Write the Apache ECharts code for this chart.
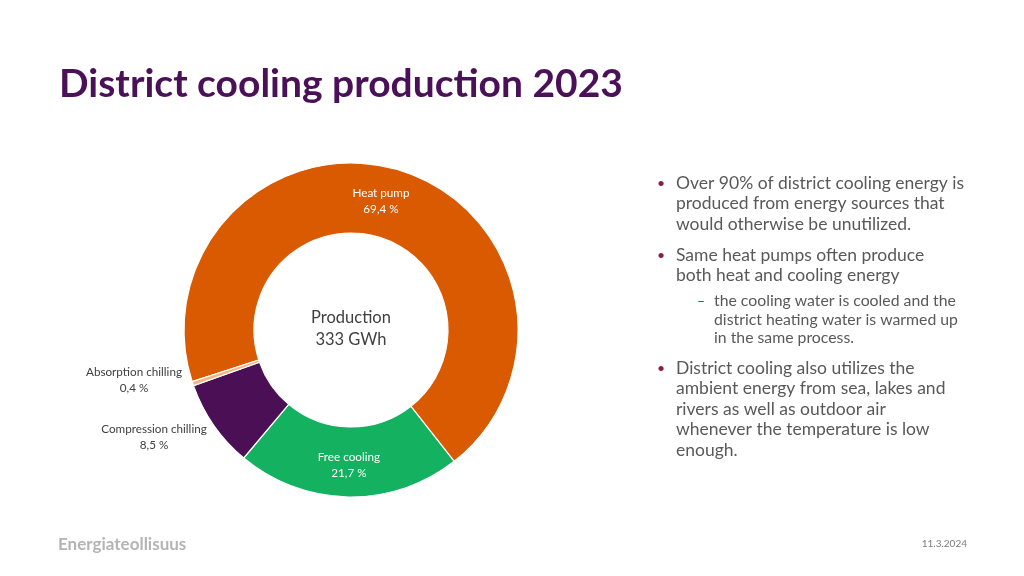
<!DOCTYPE html>
<html>
<head>
<meta charset="utf-8">
<script src="https://cdn.jsdelivr.net/npm/echarts@6/dist/echarts.min.js"></script>
<style>
  html, body { margin: 0; padding: 0; background: #fff; }
  #chart { width: 1024px; height: 576px; }
</style>
</head>
<body>
<div id="chart"></div>
<script>
// data
var categories = ["Heat pump", "Free cooling", "Compression chilling", "Absorption chilling"];
var shares = [69.4, 21.7, 8.5, 0.4];
var colors = ["#d95a00", "#13b160", "#4a0f55", "#f6b37c"];
var centerLines = ["Production", "333 GWh"];

var bullets = [
  { lines: ["Over 90% of district cooling energy is", "produced from energy sources that", "would otherwise be unutilized."], y: 183 },
  { lines: ["Same heat pumps often produce", "both heat and cooling energy"], y: 255 },
  { lines: ["District cooling also utilizes the", "ambient energy from sea, lakes and", "rivers as well as outdoor air", "whenever the temperature is low", "enough."], y: 368 }
];
var subBullet = { lines: ["the cooling water is cooled and the", "district heating water is warmed up", "in the same process."], y: 301 };

var FONT = "Lato, 'Noto Sans', sans-serif";

var chart = echarts.init(document.getElementById("chart"));

function fmtPct(v) {
  return v.toFixed(1).replace(".", ",") + " %";
}

var pieData = categories.map(function (name, i) {
  var item = { name: name, value: shares[i], itemStyle: { color: colors[i] } };
  if (i >= 2) {
    // small slices get their label outside on the left
    item.label = { position: "outside", color: "#404040" };
  }
  return item;
});

// label spots: heat pump nudged, the two small slices outside on the left
var labelSpots = { 0: [381, 201], 2: [154, 437], 3: [134, 380] };

var graphics = [];
graphics.push({
  type: "text", left: 59, top: 65,
  style: { text: "District cooling production 2023", font: "bold 39px " + FONT, fill: "#4b1158" }
});
centerLines.forEach(function (t, i) {
  graphics.push({
    type: "text", x: 351, y: 318 + i * 22,
    style: { text: t, font: "16.5px " + FONT, fill: "#404040", textAlign: "center", textVerticalAlign: "middle" }
  });
});
bullets.forEach(function (b) {
  graphics.push({
    type: "text", x: 657, y: b.y,
    style: { text: "•", font: "14px " + FONT, fill: "#8c1d40", textVerticalAlign: "middle" }
  });
  b.lines.forEach(function (t, i) {
    graphics.push({
      type: "text", x: 676, y: b.y + i * 20.6,
      style: { text: t, font: "17.5px " + FONT, fill: "#595959", textVerticalAlign: "middle" }
    });
  });
});
graphics.push({
  type: "text", x: 697, y: subBullet.y,
  style: { text: "–", font: "14px " + FONT, fill: "#8c1d40", textVerticalAlign: "middle" }
});
subBullet.lines.forEach(function (t, i) {
  graphics.push({
    type: "text", x: 714, y: subBullet.y + i * 18.5,
    style: { text: t, font: "15.8px " + FONT, fill: "#595959", textVerticalAlign: "middle" }
  });
});
graphics.push({
  type: "text", x: 58, y: 545,
  style: { text: "Energiateollisuus", font: "bold 17px " + FONT, fill: "#b4b4b4", textVerticalAlign: "middle" }
});
graphics.push({
  type: "text", x: 967, y: 544,
  style: { text: "11.3.2024", font: "10px " + FONT, fill: "#7a7a7a", textAlign: "right", textVerticalAlign: "middle" }
});

var option = {
  animation: false,
  backgroundColor: "#fff",
  graphic: graphics,
  series: [
    {
      type: "pie",
      center: [351, 330],
      radius: [97, 167],
      startAngle: 198,
      clockwise: true,
      avoidLabelOverlap: false,
      itemStyle: { borderColor: "#fff", borderWidth: 1.2 },
      label: {
        show: true,
        position: "inside",
        color: "#fff",
        fontFamily: FONT,
        fontSize: 11.7,
        lineHeight: 16,
        align: "center",
        formatter: function (p) {
          return p.name + "\n" + fmtPct(p.value);
        }
      },
      labelLine: { show: false },
      labelLayout: function (p) {
        var spot = labelSpots[p.dataIndex];
        if (spot) {
          return { x: spot[0], y: spot[1], align: "center", verticalAlign: "middle" };
        }
        return {};
      },
      data: pieData
    }
  ]
};

chart.setOption(option);
</script>
</body>
</html>
